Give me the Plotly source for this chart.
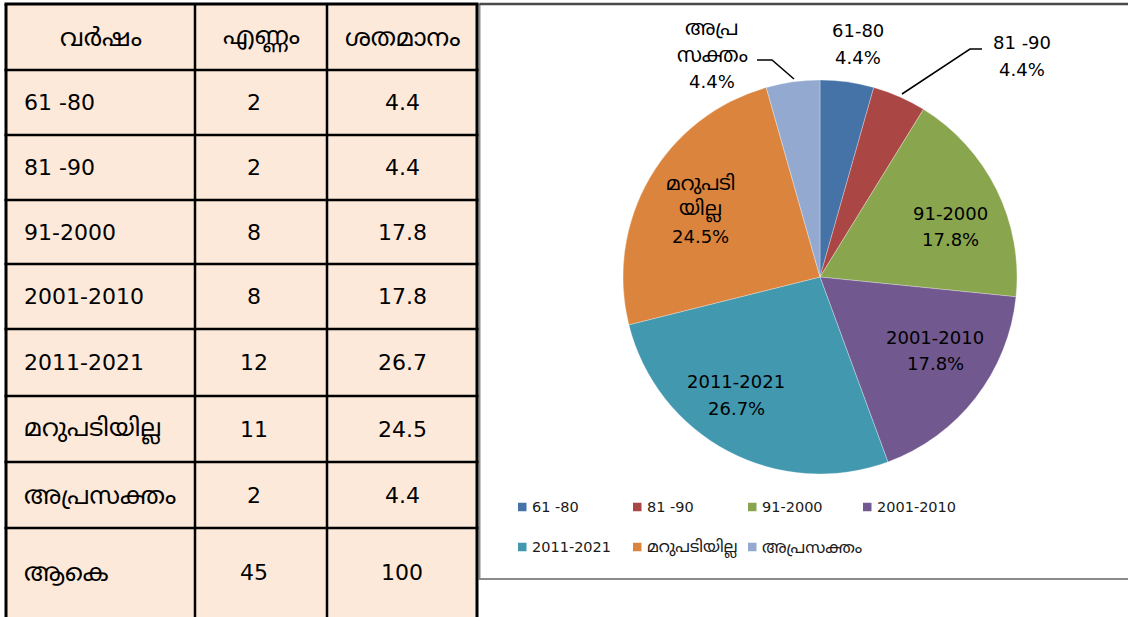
import plotly.graph_objects as go

# ---------------- data ----------------
headers = ["വർഷം", "എണ്ണം", "ശതമാനം"]
years = ["61 -80", "81 -90", "91-2000", "2001-2010", "2011-2021", "മറുപടിയില്ല", "അപ്രസക്തം"]
counts = [2, 2, 8, 8, 12, 11, 2]
percents = [4.4, 4.4, 17.8, 17.8, 26.7, 24.5, 4.4]
total_label = "ആകെ"
total_count = 45
total_percent = 100
pie_labels = ["61-80", "81 -90", "91-2000", "2001-2010", "2011-2021", "മറുപടി<br>യില്ല", "അപ്ര<br>സക്തം"]

# ---------------- styles / layout constants ----------------
colors = ["#4572A7", "#AA4643", "#89A54E", "#71588F", "#4198AF", "#DB843D", "#93A9CF"]
W, H = 1128, 617
FONT = "DejaVu Sans, Noto Sans Malayalam, Noto Sans, sans-serif"
CELL_FILL = "#FDE9D9"
ROW_EDGES = [4, 70, 135, 200, 264, 329, 396, 462, 528, 617]
COL_EDGES = [6, 195, 327, 477]
COL_TEXT_X = [22, 254, 402]
PIE_CX, PIE_CY, PIE_R = 820, 277, 197
LABEL_CENTERS = [(858, 44), (1022, 56), (950, 226.5), (935, 350.5), (736, 395), (700, 209.5), (712, 55)]
LINE_STEP = 26.5
LEADERS = {1: [(902, 94), (970, 49), (982, 49)], 6: [(794, 79), (772, 60), (757, 60)]}
LEG_X0, LEG_Y0, LEG_DX, LEG_DY, LEG_COLS, LEG_SQ = 518, 507, 115, 40, 4, 8.5
ML_SCALE = 1.13


def fx(px):
    return px / W


def fy(py):
    return 1 - py / H


def fsize(txt, base):
    return base * ML_SCALE if any("\u0d00" <= ch <= "\u0d7f" for ch in txt) else base


shapes = []
annotations = []

# ---------------- table ----------------
shapes.append(dict(type="rect", xref="paper", yref="paper",
                   x0=fx(COL_EDGES[0]), x1=fx(COL_EDGES[-1]), y0=fy(ROW_EDGES[-1] + 5), y1=fy(ROW_EDGES[0]),
                   fillcolor=CELL_FILL, line=dict(width=0), layer="below"))
for i, ry in enumerate(ROW_EDGES[:-1]):
    shapes.append(dict(type="line", xref="paper", yref="paper",
                       x0=fx(COL_EDGES[0] - 1.5), x1=fx(COL_EDGES[-1] + 1.5), y0=fy(ry), y1=fy(ry),
                       line=dict(color="black", width=3 if i == 0 else 2.5)))
for j, cx in enumerate(COL_EDGES):
    shapes.append(dict(type="line", xref="paper", yref="paper",
                       x0=fx(cx), x1=fx(cx), y0=fy(ROW_EDGES[0]), y1=fy(ROW_EDGES[-1] + 5),
                       line=dict(color="black", width=3 if j in (0, 3) else 2.5)))

rows = [headers] + [[y, str(c), f"{p:.1f}"] for y, c, p in zip(years, counts, percents)] \
    + [[total_label, str(total_count), str(total_percent)]]
for r, row in enumerate(rows):
    yc = (ROW_EDGES[r] + ROW_EDGES[r + 1]) / 2
    for c, txt in enumerate(row):
        if r == 0:
            xc = (COL_EDGES[c] + COL_EDGES[c + 1]) / 2
            anchor = "center"
        elif c == 0:
            xc = COL_TEXT_X[0]
            anchor = "left"
        else:
            xc = COL_TEXT_X[c]
            anchor = "center"
        annotations.append(dict(xref="paper", yref="paper", x=fx(xc), y=fy(yc), text=txt,
                                showarrow=False, xanchor=anchor, yanchor="middle",
                                font=dict(family=FONT, size=fsize(txt, 22), color="black")))

# ---------------- chart panel border ----------------
shapes.append(dict(type="rect", xref="paper", yref="paper",
                   x0=fx(479.5), x1=fx(W + 5), y0=fy(579), y1=fy(4),
                   line=dict(color="#8a8a8a", width=2), layer="below"))
shapes.append(dict(type="line", xref="paper", yref="paper",
                   x0=fx(479.5), x1=fx(W), y0=fy(4), y1=fy(4),
                   line=dict(color="#4a4a4a", width=2.5)))

# ---------------- pie ----------------
pie = go.Pie(
    labels=years, values=percents, sort=False, direction="clockwise", rotation=0,
    marker=dict(colors=colors, line=dict(color="white", width=0.3)),
    textinfo="none", showlegend=False, hoverinfo="label+value",
    domain=dict(x=[fx(PIE_CX - PIE_R), fx(PIE_CX + PIE_R)], y=[fy(PIE_CY + PIE_R), fy(PIE_CY - PIE_R)]),
)

for i, (lab, p) in enumerate(zip(pie_labels, percents)):
    lines = lab.split("<br>") + [f"{p}%"]
    cx, cy = LABEL_CENTERS[i]
    n = len(lines)
    for k, ln in enumerate(lines):
        ly = cy + (k - (n - 1) / 2) * LINE_STEP
        annotations.append(dict(xref="paper", yref="paper", x=fx(cx), y=fy(ly), text=ln,
                                showarrow=False, xanchor="center", yanchor="middle",
                                font=dict(family=FONT, size=fsize(ln, 18), color="black")))
for i, pts in LEADERS.items():
    path = "M " + " L ".join(f"{fx(x)},{fy(y)}" for x, y in pts)
    shapes.append(dict(type="path", xref="paper", yref="paper", path=path,
                       line=dict(color="black", width=1.5)))

# ---------------- legend (drawn from data) ----------------
for i, (lab, col) in enumerate(zip(years, colors)):
    c, r = i % LEG_COLS, i // LEG_COLS
    x0 = LEG_X0 + c * LEG_DX
    yc = LEG_Y0 + r * LEG_DY
    shapes.append(dict(type="rect", xref="paper", yref="paper",
                       x0=fx(x0), x1=fx(x0 + LEG_SQ), y0=fy(yc + LEG_SQ / 2), y1=fy(yc - LEG_SQ / 2),
                       fillcolor=col, line=dict(width=0)))
    annotations.append(dict(xref="paper", yref="paper", x=fx(x0 + LEG_SQ + 3.5), y=fy(yc), text=lab,
                            showarrow=False, xanchor="left", yanchor="middle",
                            font=dict(family=FONT, size=fsize(lab, 14.5), color="#1a1a1a")))

fig = go.Figure(pie)
fig.update_layout(
    width=W, height=H, margin=dict(l=0, r=0, t=0, b=0),
    paper_bgcolor="white", plot_bgcolor="white",
    shapes=shapes, annotations=annotations, showlegend=False,
)
fig.write_html("out.html", config={"displayModeBar": False},
               post_script="document.body.style.margin='0';document.body.style.overflow='hidden';")
